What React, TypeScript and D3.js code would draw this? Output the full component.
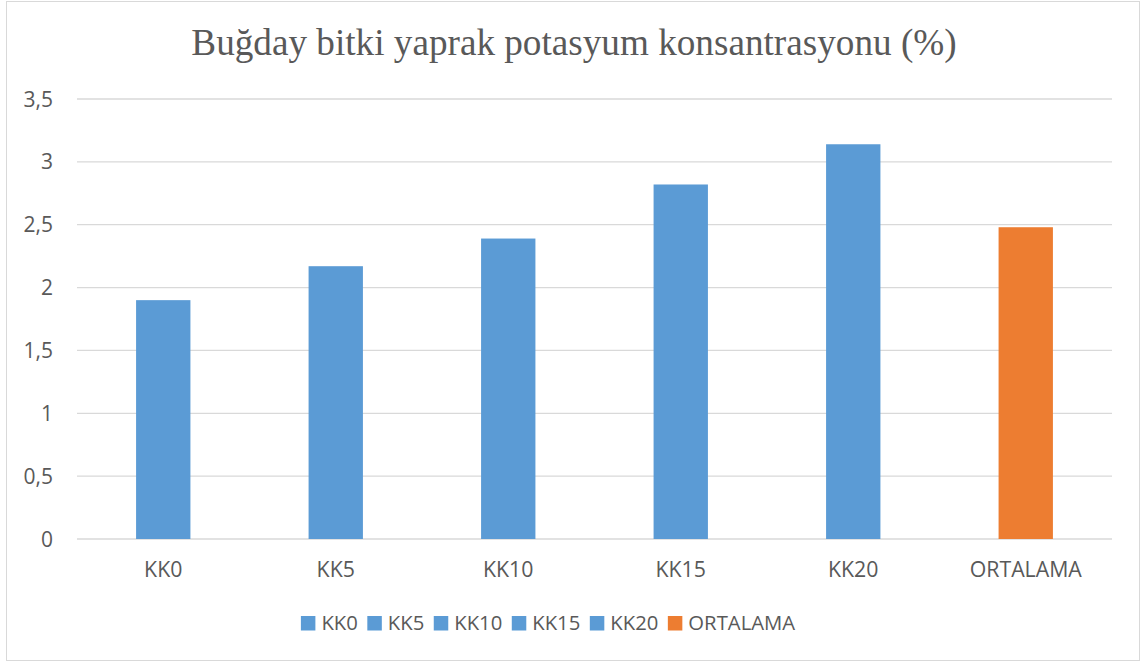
import React from 'react';
import * as d3 from 'd3';

// Chart data
const categories = ['KK0', 'KK5', 'KK10', 'KK15', 'KK20', 'ORTALAMA'];
const values = [1.9, 2.17, 2.39, 2.82, 3.14, 2.48];
const barColors = ['#5B9BD5', '#5B9BD5', '#5B9BD5', '#5B9BD5', '#5B9BD5', '#ED7D31'];
const yTicks = [0, 0.5, 1, 1.5, 2, 2.5, 3, 3.5];

const W = 1141;
const H = 662;
const margin = { top: 99, right: 29, bottom: 123, left: 77 };
const font = '"Open Sans", sans-serif';
const textColor = '#595959';

const measure = (txt: string, size: number) => {
  const c = document.createElement('canvas').getContext('2d');
  if (!c) return txt.length * size * 0.55;
  c.font = `${size}px ${font}`;
  return c.measureText(txt).width;
};

export default function App() {
  const innerW = W - margin.left - margin.right;
  const innerH = H - margin.top - margin.bottom;

  const x = d3.scaleBand<string>().domain(categories).range([0, innerW]).paddingInner(0.685).paddingOuter(0.3425);
  const y = d3.scaleLinear().domain([0, 3.5]).range([innerH, 0]);
  const fmt = (v: number) => String(v).replace('.', ',');

  // legend layout
  const legendSize = 20.3;
  const box = 14.5;
  const gap = 6;
  const itemGap = 9.5;
  const items = categories.map((c) => ({ c, w: measure(c, legendSize) }));
  let total = 0;
  items.forEach((it, i) => {
    total += box + gap + it.w + (i < items.length - 1 ? itemGap : 0);
  });
  let cursor = 548 - total / 2;
  const legendItems = items.map((it, i) => {
    const pos = cursor;
    cursor += box + gap + it.w + itemGap;
    return { ...it, x: pos, color: barColors[i] };
  });

  return (
    <svg width={W} height={H} style={{ position: 'absolute', left: 0, top: 0 }}>
      <rect x={6.5} y={1.5} width={1133} height={659} fill="#fff" stroke="#D9D9D9" strokeWidth={1} />
      <text
        x={574}
        y={55}
        textAnchor="middle"
        fontFamily='"Liberation Serif", "Times New Roman", serif'
        fontSize={37.2}
        fill={textColor}
      >
        Buğday bitki yaprak potasyum konsantrasyonu (%)
      </text>
      <g transform={`translate(${margin.left},${margin.top})`}>
        {yTicks.map((t) => (
          <g key={t}>
            <line x1={0} x2={innerW} y1={y(t)} y2={y(t)} stroke="#D9D9D9" strokeWidth={1.3} />
            <text x={-24} y={y(t) + 7.5} textAnchor="end" fontFamily={font} fontSize={21} fill={textColor}>
              {fmt(t)}
            </text>
          </g>
        ))}
        {categories.map((c, i) => (
          <g key={c}>
            <rect x={x(c)} y={y(values[i])} width={x.bandwidth()} height={innerH - y(values[i])} fill={barColors[i]} />
            <text
              x={(x(c) ?? 0) + x.bandwidth() / 2}
              y={innerH + 38}
              textAnchor="middle"
              fontFamily={font}
              fontSize={21.3}
              fill={textColor}
            >
              {c}
            </text>
          </g>
        ))}
      </g>
      <g>
        {legendItems.map((it) => (
          <g key={it.c}>
            <rect x={it.x} y={616} width={box} height={box} fill={it.color} />
            <text x={it.x + box + gap} y={630} fontFamily={font} fontSize={legendSize} fill={textColor}>
              {it.c}
            </text>
          </g>
        ))}
      </g>
    </svg>
  );
}
